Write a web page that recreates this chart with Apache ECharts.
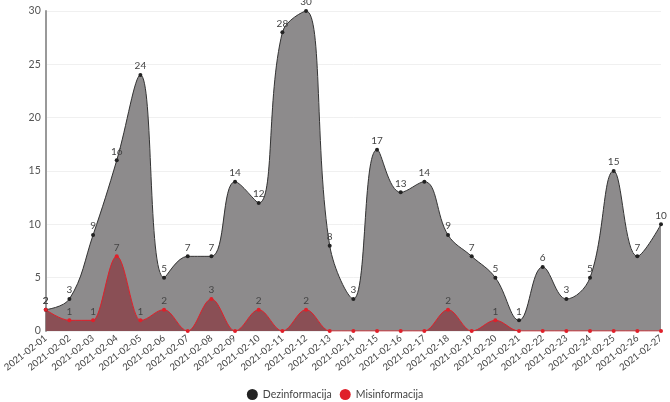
<!DOCTYPE html>
<html><head><meta charset="utf-8">
<script src="https://cdn.jsdelivr.net/npm/echarts@6/dist/echarts.min.js"></script>
<style>html,body{margin:0;padding:0;background:#fff}#c{width:670px;height:402px}</style>
</head><body><div id="c"></div>
<script>
const categories = ["2021-02-01","2021-02-02","2021-02-03","2021-02-04","2021-02-05","2021-02-06","2021-02-07","2021-02-08","2021-02-09","2021-02-10","2021-02-11","2021-02-12","2021-02-13","2021-02-14","2021-02-15","2021-02-16","2021-02-17","2021-02-18","2021-02-19","2021-02-20","2021-02-21","2021-02-22","2021-02-23","2021-02-24","2021-02-25","2021-02-26","2021-02-27"];
const dezinformacija = [2,3,9,16,24,5,7,7,14,12,28,30,8,3,17,13,14,9,7,5,1,6,3,5,15,7,10];
const misinformacija = [2,1,1,7,1,2,0,3,0,2,0,2,0,0,0,0,0,2,0,1,0,0,0,0,0,0,0];
const yTicks = [0,5,10,15,20,25,30];

const chart = echarts.init(document.getElementById('c'));
const font = 'Lato, "DejaVu Sans", sans-serif';
chart.setOption({
  animation: false,
  textStyle: {fontFamily: font},
  grid: {left: 43, right: 9, top: 11, bottom: 71},
  legend: {
    bottom: -3, left: 'center', icon: 'circle', itemWidth: 11, itemHeight: 11, itemGap: 8,
    textStyle: {fontSize: 10.5, color: '#444', fontFamily: font},
    data: [{name: 'Dezinformacija', itemStyle: {color: '#222'}}, {name: 'Misinformacija', itemStyle: {color: '#e0202a'}}]
  },
  xAxis: {
    type: 'category', data: categories, boundaryGap: false,
    axisLine: {show: false}, axisTick: {show: false},
    axisLabel: {rotate: 38, fontSize: 9.5, color: '#444', margin: 6, interval: 0}
  },
  yAxis: {
    type: 'value', min: yTicks[0], max: yTicks[yTicks.length-1], interval: 5,
    axisLine: {show: true, lineStyle: {color: '#999', width: 2}}, axisTick: {show: false},
    axisLabel: {fontSize: 10.5, color: '#555', margin: 5},
    splitLine: {lineStyle: {color: '#f0f0f0'}}
  },
  series: [
    {
      name: 'Dezinformacija', type: 'line', data: dezinformacija, smooth: 0.4,
      symbol: 'circle', symbolSize: 4, showSymbol: true,
      lineStyle: {color: '#333', width: 1},
      itemStyle: {color: '#222'},
      areaStyle: {color: '#8d8b8c', opacity: 1},
      label: {show: true, position: 'top', distance: 2, fontSize: 10, color: '#444'}
    },
    {
      name: 'Misinformacija', type: 'line', data: misinformacija, smooth: 0.36, smoothMonotone: 'x',
      symbol: 'circle', symbolSize: 4, showSymbol: true,
      lineStyle: {color: '#e0202a', width: 1},
      itemStyle: {color: '#e0202a'},
      areaStyle: {color: '#8a4f55', opacity: 1},
      label: {show: true, position: 'top', distance: 2, fontSize: 10, color: '#444',
        formatter: p => p.value === 0 ? '' : p.value}
    }
  ]
});
</script></body></html>
